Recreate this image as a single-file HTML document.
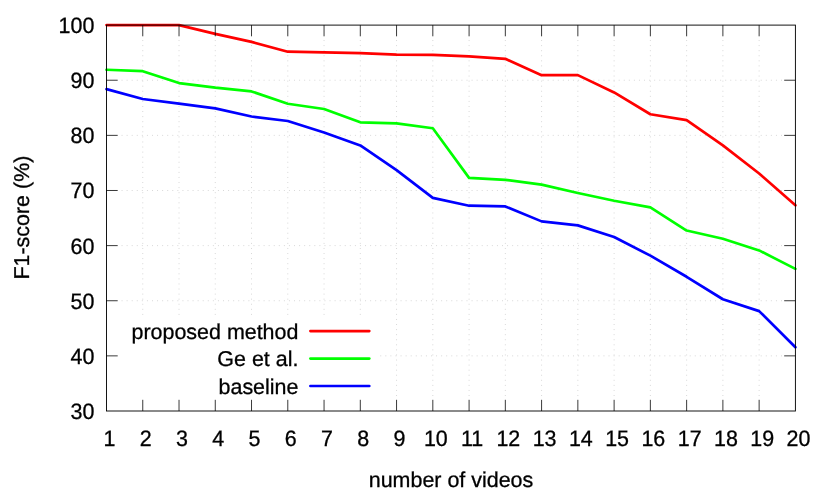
<!DOCTYPE html>
<html><head><meta charset="utf-8"><title>F1-score vs number of videos</title>
<style>
html,body{margin:0;padding:0;background:#fff;}
body{width:830px;height:498px;overflow:hidden;}
svg{display:block;will-change:transform;}
text{text-rendering:geometricPrecision;font-family:"Liberation Sans",sans-serif;font-size:21.45px;fill:#000;stroke:#000;stroke-width:0.3px;}
</style></head><body>
<svg width="830" height="498" viewBox="0 0 830 498">
<rect x="0" y="0" width="830" height="498" fill="#fff"/>

<g stroke="#d8d8d8" stroke-width="1" fill="none">
<path stroke-dasharray="1 4.0727" d="M121.55 355.87H783.20"/>
<path stroke-dasharray="1 4.0727" d="M121.55 300.74H783.20"/>
<path stroke-dasharray="1 4.0727" d="M121.55 245.61H783.20"/>
<path stroke-dasharray="1 4.0727" d="M121.55 190.49H783.20"/>
<path stroke-dasharray="1 4.0727" d="M121.55 135.36H783.20"/>
<path stroke-dasharray="1 4.0727" d="M121.55 80.23H783.20"/>
<path stroke-dasharray="1 4.071" d="M142.76 396.02V37.30"/>
<path stroke-dasharray="1 4.071" d="M179.02 396.02V37.30"/>
<path stroke-dasharray="1 4.071" d="M215.27 396.02V37.30"/>
<path stroke-dasharray="1 4.071" d="M251.53 396.02V37.30"/>
<path stroke-dasharray="1 4.071" d="M287.79 396.02V37.30"/>
<path stroke-dasharray="1 4.071" d="M324.05 396.02V37.30"/>
<path stroke-dasharray="1 4.071" d="M360.31 396.02V37.30"/>
<path stroke-dasharray="1 4.071" d="M396.56 396.02V37.30"/>
<path stroke-dasharray="1 4.071" d="M432.82 396.02V37.30"/>
<path stroke-dasharray="1 4.071" d="M469.08 396.02V37.30"/>
<path stroke-dasharray="1 4.071" d="M505.34 396.02V37.30"/>
<path stroke-dasharray="1 4.071" d="M541.59 396.02V37.30"/>
<path stroke-dasharray="1 4.071" d="M577.85 396.02V37.30"/>
<path stroke-dasharray="1 4.071" d="M614.11 396.02V37.30"/>
<path stroke-dasharray="1 4.071" d="M650.37 396.02V37.30"/>
<path stroke-dasharray="1 4.071" d="M686.63 396.02V37.30"/>
<path stroke-dasharray="1 4.071" d="M722.88 396.02V37.30"/>
<path stroke-dasharray="1 4.071" d="M759.14 396.02V37.30"/>
</g>
<polyline points="106.50,25.10 142.76,25.10 179.02,25.10 215.27,33.92 251.53,41.86 287.79,51.67 324.05,52.39 360.31,53.11 396.56,54.65 432.82,54.87 469.08,56.36 505.34,58.84 541.59,75.16 577.85,75.16 614.11,92.47 650.37,114.24 686.63,120.09 722.88,145.39 759.14,173.45 795.40,205.32" fill="none" stroke="#ff0000" stroke-width="2.67" stroke-linejoin="round" stroke-linecap="round"/>
<polyline points="106.50,69.75 142.76,71.19 179.02,83.10 215.27,87.67 251.53,91.42 287.79,103.77 324.05,109.01 360.31,122.35 396.56,123.34 432.82,128.30 469.08,177.86 505.34,179.85 541.59,184.64 577.85,192.97 614.11,200.79 650.37,207.36 686.63,230.56 722.88,238.78 759.14,250.41 795.40,268.88" fill="none" stroke="#00ff00" stroke-width="2.67" stroke-linejoin="round" stroke-linecap="round"/>
<polyline points="106.50,89.16 142.76,99.03 179.02,103.60 215.27,108.40 251.53,116.50 287.79,121.02 324.05,132.60 360.31,145.39 396.56,170.09 432.82,197.87 469.08,205.70 505.34,206.42 541.59,221.36 577.85,225.38 614.11,236.96 650.37,255.65 686.63,276.76 722.88,299.25 759.14,311.11 795.40,347.22" fill="none" stroke="#0000ff" stroke-width="2.67" stroke-linejoin="round" stroke-linecap="round"/>
<rect x="120" y="318" width="260" height="81" fill="#fff"/>
<text x="298.4" y="338.90" text-anchor="end">proposed method</text>
<path d="M310.40 331.10H369.30" stroke="#ff0000" stroke-width="2.67" stroke-linecap="round" fill="none"/>
<text x="298.4" y="366.35" text-anchor="end">Ge et al.</text>
<path d="M310.40 358.55H369.30" stroke="#00ff00" stroke-width="2.67" stroke-linecap="round" fill="none"/>
<text x="298.4" y="393.80" text-anchor="end">baseline</text>
<path d="M310.40 386.00H369.30" stroke="#0000ff" stroke-width="2.67" stroke-linecap="round" fill="none"/>
<g stroke="#000" stroke-width="0.78" fill="none">
<path d="M106.50 355.87h11.20"/>
<path d="M795.40 355.87h-11.20"/>
<path d="M106.50 300.74h11.20"/>
<path d="M795.40 300.74h-11.20"/>
<path d="M106.50 245.61h11.20"/>
<path d="M795.40 245.61h-11.20"/>
<path d="M106.50 190.49h11.20"/>
<path d="M795.40 190.49h-11.20"/>
<path d="M106.50 135.36h11.20"/>
<path d="M795.40 135.36h-11.20"/>
<path d="M106.50 80.23h11.20"/>
<path d="M795.40 80.23h-11.20"/>
<path d="M142.76 411.00v-11.20"/>
<path d="M142.76 25.10v11.20"/>
<path d="M179.02 411.00v-11.20"/>
<path d="M179.02 25.10v11.20"/>
<path d="M215.27 411.00v-11.20"/>
<path d="M215.27 25.10v11.20"/>
<path d="M251.53 411.00v-11.20"/>
<path d="M251.53 25.10v11.20"/>
<path d="M287.79 411.00v-11.20"/>
<path d="M287.79 25.10v11.20"/>
<path d="M324.05 411.00v-11.20"/>
<path d="M324.05 25.10v11.20"/>
<path d="M360.31 411.00v-11.20"/>
<path d="M360.31 25.10v11.20"/>
<path d="M396.56 411.00v-11.20"/>
<path d="M396.56 25.10v11.20"/>
<path d="M432.82 411.00v-11.20"/>
<path d="M432.82 25.10v11.20"/>
<path d="M469.08 411.00v-11.20"/>
<path d="M469.08 25.10v11.20"/>
<path d="M505.34 411.00v-11.20"/>
<path d="M505.34 25.10v11.20"/>
<path d="M541.59 411.00v-11.20"/>
<path d="M541.59 25.10v11.20"/>
<path d="M577.85 411.00v-11.20"/>
<path d="M577.85 25.10v11.20"/>
<path d="M614.11 411.00v-11.20"/>
<path d="M614.11 25.10v11.20"/>
<path d="M650.37 411.00v-11.20"/>
<path d="M650.37 25.10v11.20"/>
<path d="M686.63 411.00v-11.20"/>
<path d="M686.63 25.10v11.20"/>
<path d="M722.88 411.00v-11.20"/>
<path d="M722.88 25.10v11.20"/>
<path d="M759.14 411.00v-11.20"/>
<path d="M759.14 25.10v11.20"/>
</g>
<rect x="106.50" y="25.10" width="688.90" height="385.90" stroke="#000" stroke-width="0.92" fill="none"/>
<text transform="translate(94.4 418.90) scale(1 1.040)" text-anchor="end">30</text>
<text transform="translate(94.4 363.77) scale(1 1.040)" text-anchor="end">40</text>
<text transform="translate(94.4 308.64) scale(1 1.040)" text-anchor="end">50</text>
<text transform="translate(94.4 253.51) scale(1 1.040)" text-anchor="end">60</text>
<text transform="translate(94.4 198.39) scale(1 1.040)" text-anchor="end">70</text>
<text transform="translate(94.4 143.26) scale(1 1.040)" text-anchor="end">80</text>
<text transform="translate(94.4 88.13) scale(1 1.040)" text-anchor="end">90</text>
<text transform="translate(94.4 33.00) scale(1 1.040)" text-anchor="end">100</text>
<text transform="translate(109.50 446.3) scale(1 1.040)" text-anchor="middle">1</text>
<text transform="translate(145.76 446.3) scale(1 1.040)" text-anchor="middle">2</text>
<text transform="translate(182.02 446.3) scale(1 1.040)" text-anchor="middle">3</text>
<text transform="translate(218.27 446.3) scale(1 1.040)" text-anchor="middle">4</text>
<text transform="translate(254.53 446.3) scale(1 1.040)" text-anchor="middle">5</text>
<text transform="translate(290.79 446.3) scale(1 1.040)" text-anchor="middle">6</text>
<text transform="translate(327.05 446.3) scale(1 1.040)" text-anchor="middle">7</text>
<text transform="translate(363.31 446.3) scale(1 1.040)" text-anchor="middle">8</text>
<text transform="translate(399.56 446.3) scale(1 1.040)" text-anchor="middle">9</text>
<text transform="translate(435.82 446.3) scale(1 1.040)" text-anchor="middle">10</text>
<text transform="translate(472.08 446.3) scale(1 1.040)" text-anchor="middle">11</text>
<text transform="translate(508.34 446.3) scale(1 1.040)" text-anchor="middle">12</text>
<text transform="translate(544.59 446.3) scale(1 1.040)" text-anchor="middle">13</text>
<text transform="translate(580.85 446.3) scale(1 1.040)" text-anchor="middle">14</text>
<text transform="translate(617.11 446.3) scale(1 1.040)" text-anchor="middle">15</text>
<text transform="translate(653.37 446.3) scale(1 1.040)" text-anchor="middle">16</text>
<text transform="translate(689.63 446.3) scale(1 1.040)" text-anchor="middle">17</text>
<text transform="translate(725.88 446.3) scale(1 1.040)" text-anchor="middle">18</text>
<text transform="translate(762.14 446.3) scale(1 1.040)" text-anchor="middle">19</text>
<text transform="translate(798.40 446.3) scale(1 1.040)" text-anchor="middle">20</text>
<text x="451" y="487" text-anchor="middle">number of videos</text>
<text transform="translate(29.1 217.6) rotate(-90)" text-anchor="middle">F1-score (%)</text>
</svg></body></html>
